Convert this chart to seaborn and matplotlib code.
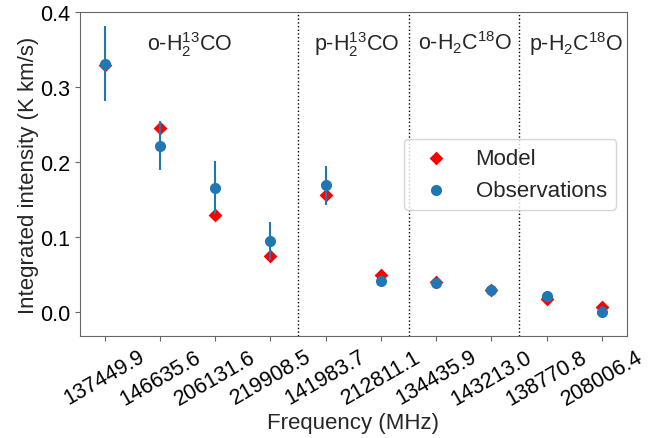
import numpy as np
import pandas as pd
import matplotlib
matplotlib.use("Agg")
import matplotlib.pyplot as plt
import seaborn as sns

# ============================================================
# DATA
# ============================================================

freq_labels = ["137449.9", "146635.6", "206131.6", "219908.5", "141983.7",
               "212811.1", "134435.9", "143213.0", "138770.8", "208006.4"]

model = [0.329, 0.245, 0.129, 0.075, 0.156, 0.050, 0.040, 0.030, 0.018, 0.007]
obs = [0.331, 0.222, 0.166, 0.095, 0.169, 0.041, 0.039, 0.029, 0.021, 0.000]
obs_err = [0.050, 0.033, 0.035, 0.025, 0.026, 0.006, 0.004, 0.003, 0.003, 0.008]

group_names = [r"o-H$_2^{13}$CO", r"p-H$_2^{13}$CO",
               r"o-H$_2$C$^{18}$O", r"p-H$_2$C$^{18}$O"]
group_sizes = [4, 2, 2, 2]

# ============================================================
# STYLE
# ============================================================

sns.set_style("ticks")
plt.rcParams["font.family"] = ["Liberation Sans", "DejaVu Sans"]
plt.rcParams["mathtext.fontset"] = "custom"
plt.rcParams["mathtext.rm"] = "Liberation Sans"
plt.rcParams["mathtext.it"] = "Liberation Sans"

df = pd.DataFrame({
    "pos": np.arange(len(freq_labels)),
    "model": model,
    "obs": obs,
    "err": obs_err,
})

fig = plt.figure(figsize=(6.66, 4.39), dpi=100)
ax = fig.add_axes([0.120, 0.232, 0.821, 0.738])

# Model first, observations on top
sns.scatterplot(data=df, x="pos", y="model", marker="D", color="red",
                s=49, linewidth=0, label="Model", ax=ax, zorder=3)

ax.errorbar(df["pos"], df["obs"], yerr=df["err"], fmt="none",
            ecolor="#1f77b4", elinewidth=1.5, zorder=3)

sns.scatterplot(data=df, x="pos", y="obs", marker="o", color="#1f77b4",
                s=64, linewidth=0, label="Observations", ax=ax, zorder=4)

# group separators and names
edges = np.cumsum(group_sizes)[:-1] - 0.5
for e in edges:
    ax.axvline(e, color="black", linestyle=":", linewidth=1)

text_x = [0.76, 3.78, 5.67, 7.69]
for name, tx in zip(group_names, text_x):
    ax.text(tx, 0.35, name, fontsize=15.5, ha="left", va="baseline")

ax.set_xlim(-0.45, 9.45)
ax.set_ylim(-0.032, 0.4)
ax.set_yticks([0.0, 0.1, 0.2, 0.3, 0.4])
ax.set_xticks(df["pos"])
ax.set_xticklabels(freq_labels, rotation=30, fontsize=15.5)
ax.tick_params(axis="y", labelsize=15.5)
ax.tick_params(colors="0.4", labelcolor="black", length=3.5, width=0.8, pad=3.5)

for sp in ax.spines.values():
    sp.set_color("0.4")
    sp.set_linewidth(0.8)
    sp.set_visible(True)

ax.set_xlabel("Frequency (MHz)", fontsize=16, labelpad=2)
ax.set_ylabel("Integrated intensity (K km/s)", fontsize=16, labelpad=1)

ax.legend(loc="center right", fontsize=16)

plt.savefig("out.png", dpi=100)
plt.close()
